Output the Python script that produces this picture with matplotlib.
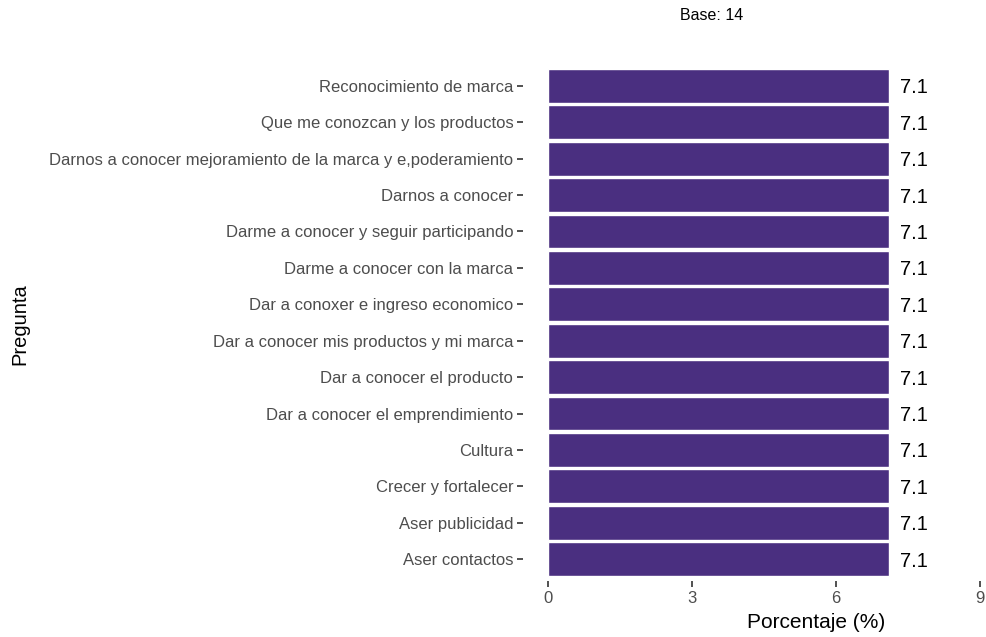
import matplotlib.pyplot as plt

plt.rcParams['font.family'] = ['Liberation Sans', 'DejaVu Sans']

# categories listed bottom to top
preguntas = [
    'Aser contactos',
    'Aser publicidad',
    'Crecer y fortalecer',
    'Cultura',
    'Dar a conocer el emprendimiento',
    'Dar a conocer el producto',
    'Dar a conocer mis productos y mi marca',
    'Dar a conoxer e ingreso economico',
    'Darme a conocer con la marca',
    'Darme a conocer y seguir participando',
    'Darnos a conocer',
    'Darnos a conocer mejoramiento de la marca y e,poderamiento',
    'Que me conozcan y los productos',
    'Reconocimiento de marca',
]
porcentaje = [7.1] * 14
x_ticks = [0, 3, 6, 9]

fig = plt.figure(figsize=(9.86, 6.37), dpi=100)
# panel runs past the right edge, as in the reference
ax = fig.add_axes([523 / 986, 1 - 581 / 637, 482 / 986, 517 / 637])

pos = list(range(len(preguntas)))
ax.barh(pos, porcentaje, height=0.93, color='#4A2F80', edgecolor='white', linewidth=1)
for p, v in zip(pos, porcentaje):
    ax.text(v + 0.24, p, f'{v:.1f}', va='center_baseline', ha='left', fontsize=14.5, color='black')

ax.set_xlim(-0.52, 9.52)
ax.set_ylim(-0.6, len(preguntas) - 0.4)
ax.set_xticks(x_ticks)
ax.set_xticklabels([str(t) for t in x_ticks])
ax.set_yticks(pos)
ax.set_yticklabels(preguntas)
ax.tick_params(axis='both', length=4, width=1.2, color='#333333', labelcolor='#4D4D4D', labelsize=12, pad=3)
for s in ax.spines.values():
    s.set_visible(False)

fig.text(816 / 986, 1 - 622 / 637, 'Porcentaje (%)', ha='center', va='center', fontsize=15)
fig.text(20 / 986, 1 - 324 / 637, 'Pregunta', ha='center', va='center', fontsize=14.5, rotation=90)
fig.text(712 / 986, 1 - 16 / 637, 'Base: 14', ha='center', va='center', fontsize=11.5)

fig.savefig('out.png', dpi=100)
